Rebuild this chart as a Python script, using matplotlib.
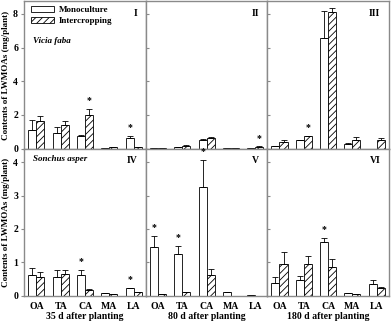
import matplotlib
matplotlib.use("Agg")
import matplotlib.pyplot as plt
import numpy as np
from matplotlib.patches import Patch

plt.rcParams['font.family'] = ['Liberation Serif', 'DejaVu Serif']
plt.rcParams['font.weight'] = 'bold'
plt.rcParams['hatch.linewidth'] = 0.6

categories = ["OA", "TA", "CA", "MA", "LA"]
periods = ["35 d after planting", "80 d after planting", "180 d after planting"]
panel_ids = [["I", "II", "III"], ["IV", "V", "VI"]]
species = ["Vicia faba", "Sonchus asper"]

# Vicia faba (top row)
vf_mono = [[1.1, 0.95, 0.75, 0.04, 0.62],
           [0.05, 0.08, 0.50, 0.03, 0.03],
           [0.16, 0.49, 6.58, 0.29, 0.0]]
vf_mono_err = [[0.6, 0.35, 0.08, 0.0, 0.15],
               [0.0, 0.0, 0.08, 0.0, 0.0],
               [0.0, 0.0, 1.6, 0.05, 0.0]]
vf_inter = [[1.65, 1.42, 2.0, 0.09, 0.1],
            [0.03, 0.18, 0.62, 0.02, 0.1],
            [0.38, 0.72, 8.1, 0.5, 0.53]]
vf_inter_err = [[0.3, 0.2, 0.35, 0.0, 0.0],
                [0.0, 0.04, 0.06, 0.0, 0.04],
                [0.12, 0.05, 0.24, 0.17, 0.12]]
vf_star_mono = [[0, 0, 0, 0, 1], [0, 0, 0, 0, 0], [0, 0, 0, 0, 0]]
vf_star_inter = [[0, 0, 1, 0, 0], [0, 0, 0, 0, 1], [0, 1, 0, 0, 0]]

# Sonchus asper (bottom row)
sa_mono = [[0.63, 0.58, 0.63, 0.08, 0.23],
           [1.45, 1.25, 3.26, 0.13, 0.04],
           [0.40, 0.48, 1.62, 0.10, 0.35]]
sa_mono_err = [[0.2, 0.2, 0.16, 0.0, 0.02],
               [0.34, 0.24, 0.8, 0.0, 0.0],
               [0.18, 0.12, 0.12, 0.0, 0.13]]
sa_inter = [[0.56, 0.65, 0.18, 0.05, 0.13],
            [0.05, 0.13, 0.63, 0.0, 0.0],
            [0.94, 0.95, 0.85, 0.05, 0.23]]
sa_inter_err = [[0.17, 0.13, 0.02, 0.0, 0.0],
                [0.0, 0.0, 0.19, 0.0, 0.0],
                [0.38, 0.25, 0.25, 0.0, 0.03]]
sa_star_mono = [[0, 0, 1, 0, 1], [1, 1, 1, 0, 0], [0, 0, 1, 0, 0]]
sa_star_inter = [[0, 0, 0, 0, 0], [0, 0, 0, 0, 0], [0, 0, 0, 0, 0]]

rows = [
    (vf_mono, vf_mono_err, vf_inter, vf_inter_err, vf_star_mono, vf_star_inter, 8.75, [0, 2, 4, 6, 8]),
    (sa_mono, sa_mono_err, sa_inter, sa_inter_err, sa_star_mono, sa_star_inter, 4.4, [0, 1, 2, 3, 4]),
]

fig = plt.figure(figsize=(3.92, 3.21), dpi=100)
gs = fig.add_gridspec(2, 3, left=0.062, right=0.992, top=0.996, bottom=0.078,
                      wspace=0, hspace=0)

x = np.arange(len(categories))
w = 0.33
spine_col = "#8a8a8a"
fs = 7
hatch = "/////"

for r, (mono, merr, inter, ierr, smono, sinter, ymax, yt) in enumerate(rows):
    for c in range(3):
        ax = fig.add_subplot(gs[r, c])
        m = np.array(mono[c]); me = np.array(merr[c])
        it = np.array(inter[c]); ie = np.array(ierr[c])
        ax.bar(x - w / 2, m, w, color="white", edgecolor="black", linewidth=0.6,
               yerr=[np.zeros_like(me), me], error_kw=dict(ecolor="black", elinewidth=0.6, capsize=2, capthick=0.6))
        ax.bar(x + w / 2, it, w, color="white", edgecolor="black", linewidth=0.6, hatch=hatch,
               yerr=[np.zeros_like(ie), ie], error_kw=dict(ecolor="black", elinewidth=0.6, capsize=2, capthick=0.6))
        off = ymax * 0.025
        for i in range(len(categories)):
            if smono[c][i]:
                ax.text(x[i] - w / 2, m[i] + me[i] + off, "*", ha="center", va="bottom", fontsize=7)
            if sinter[c][i]:
                ax.text(x[i] + w / 2, it[i] + ie[i] + off, "*", ha="center", va="bottom", fontsize=7)
        ax.set_xlim(-0.5, 4.5)
        ax.set_ylim(0, ymax)
        ax.set_yticks(yt)
        for s in ax.spines.values():
            s.set_color(spine_col)
            s.set_linewidth(1.0)
        ax.text(0.93, 0.95, panel_ids[r][c], transform=ax.transAxes, ha="right", va="top",
                fontsize=7, fontweight="bold")
        if c == 0:
            ax.tick_params(axis="y", direction="out", length=2.5, labelsize=fs, pad=2, color=spine_col)
            ax.set_ylabel("Contents of LWMOAs (mg/plant)", fontsize=6.5, fontweight="bold", labelpad=2)
        else:
            ax.tick_params(axis="y", direction="in", length=2.5, labelleft=False, color=spine_col)
        if r == 1:
            ax.set_xticks(x)
            ax.set_xticklabels(categories, fontsize=fs, fontweight="bold")
            ax.tick_params(axis="x", length=0, pad=4)
            ax.set_xlabel(periods[c], fontsize=fs, fontweight="bold", labelpad=1)
        else:
            ax.set_xticks([])
        if c == 0:
            if r == 0:
                handles = [Patch(facecolor="white", edgecolor="black", linewidth=0.6),
                           Patch(facecolor="white", edgecolor="black", linewidth=0.6, hatch=hatch)]
                ax.legend(handles, ["Monoculture", "Intercropping"], loc="upper left",
                          bbox_to_anchor=(0.0, 1.01), frameon=False, fontsize=6.5,
                          handlelength=2.6, handleheight=0.7, handletextpad=0.5,
                          labelspacing=0.25, borderaxespad=0.3)
                ax.text(0.07, 0.76, species[r], transform=ax.transAxes, ha="left", va="top",
                        fontsize=6.5, fontweight="bold", style="italic")
            else:
                ax.text(0.07, 0.96, species[r], transform=ax.transAxes, ha="left", va="top",
                        fontsize=6.5, fontweight="bold", style="italic")

fig.savefig("out.png", dpi=100)
